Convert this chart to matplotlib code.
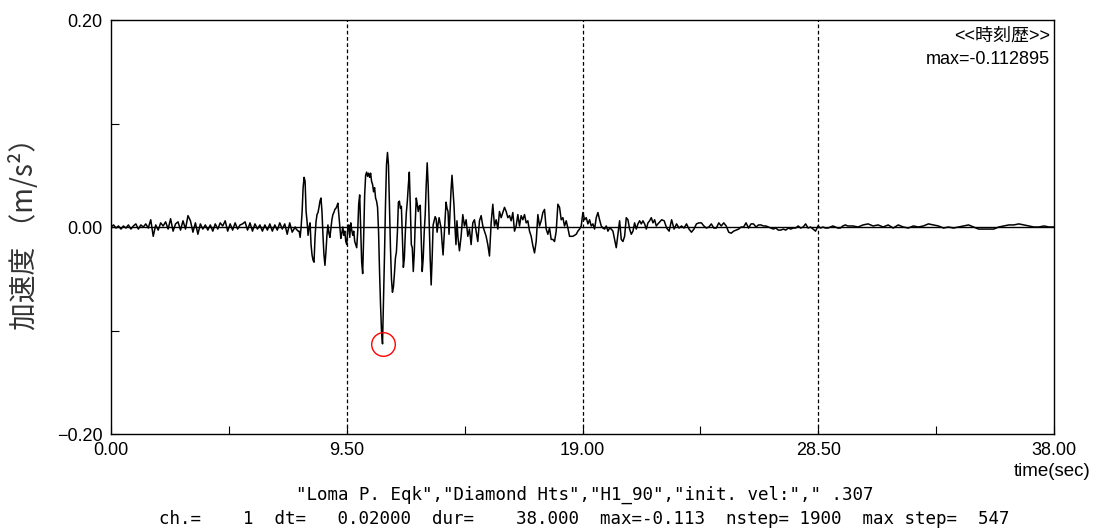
import numpy as np
import matplotlib
matplotlib.use("Agg")
import matplotlib.pyplot as plt

plt.rcParams['font.family'] = ['Liberation Sans', 'Noto Sans CJK JP', 'DejaVu Sans']
plt.rcParams['axes.unicode_minus'] = True

# acceleration (m/s2) in pieces
# quiet start, 0.0 - 7.3 s every 0.1 s
acc_pre = [0.000, 0.002, -0.001, 0.001, -0.002, 0.001, -0.001, 0.002, -0.002, 0.001,
           0.003, -0.002, 0.002, 0.000, 0.003, -0.001, 0.007, -0.009, 0.002, -0.003,
           0.004, 0.001, 0.005, -0.002, 0.008, -0.004, 0.003, 0.005, -0.003, 0.006,
           -0.002, 0.011, 0.006, -0.005, 0.004, -0.007, 0.003, -0.002, 0.002, -0.003,
           0.002, -0.004, 0.003, -0.002, 0.004, 0.001, 0.006, -0.004, 0.003, -0.003,
           0.004, -0.002, 0.002, 0.003, 0.005, -0.003, 0.004, -0.004, 0.003, -0.002,
           0.002, -0.004, 0.002, -0.003, 0.003, -0.004, 0.002, -0.003, 0.004, -0.002,
           0.003, -0.007, 0.004, -0.005]
t_pre = (0.0, 7.3)

# strong motion, 7.42 - 13.98 s every 0.04 s
acc_main = [0.000, -0.002, -0.003, -0.004, -0.004, -0.010, 0.000, 0.015, 0.038, 0.048,
            0.044, 0.015, 0.005, -0.008, 0.000, 0.004, -0.017, -0.027, -0.032, -0.034,
            -0.010, 0.005, 0.012, 0.014, 0.019, 0.025, 0.028, 0.015, -0.008, -0.027,
            -0.037, -0.024, -0.008, 0.002, -0.006, -0.010, -0.001, 0.007, 0.012, 0.014,
            0.017, 0.018, 0.020, 0.023, 0.012, 0.002, -0.011, -0.006, 0.000, -0.008,
            -0.004, -0.014, -0.017, -0.001, 0.002, -0.010, 0.004, -0.003, -0.008, -0.004,
            -0.014, -0.017, -0.020, -0.004, 0.022, 0.031, -0.001, -0.034, -0.045, -0.010,
            0.031, 0.050, 0.053, 0.049, 0.052, 0.048, 0.052, 0.044, 0.041, 0.034,
            0.038, 0.028, 0.025, 0.019, -0.004, -0.043, -0.075, -0.101, -0.112895, -0.072,
            -0.027, 0.022, 0.060, 0.072, 0.060, 0.020, -0.020, -0.050, -0.063, -0.058,
            -0.045, -0.030, -0.024, -0.005, 0.024, 0.025, 0.018, 0.020, -0.010, -0.039,
            -0.030, -0.005, 0.014, 0.025, 0.040, 0.053, 0.020, -0.017, -0.020, -0.043,
            -0.025, 0.005, 0.028, 0.022, 0.015, 0.020, 0.021, -0.010, -0.043, -0.030,
            -0.005, 0.012, 0.040, 0.062, 0.040, 0.005, -0.030, -0.056, -0.030, 0.002,
            0.006, 0.010, 0.008, -0.005, 0.003, 0.009, 0.004, -0.001, -0.015, -0.027,
            -0.010, 0.008, 0.024, 0.018, 0.015, -0.007, 0.015, 0.035, 0.050, 0.035,
            0.021, 0.000, -0.017, 0.006, -0.010]
t_main = (7.42, 13.98)

# coda, 14.04 - 22.04 s
acc_coda = [-0.023, -0.009, 0.012, 0.001, 0.007, -0.009, -0.002, -0.017, 0.004, 0.007,
            -0.004, -0.014, 0.006, 0.011, 0.001, -0.004, -0.009, -0.017, -0.028, 0.004,
            0.022, 0.001, 0.007, -0.002, 0.015, 0.009, 0.014, 0.019, 0.015, 0.009,
            0.011, 0.006, 0.014, -0.004, 0.001, 0.012, 0.001, 0.011, 0.007, 0.012,
            0.004, 0.006, -0.004, -0.009, -0.018, -0.025, -0.014, 0.012, 0.001, 0.006,
            0.014, 0.017, -0.002, -0.007, -0.001, -0.012, -0.012, -0.014, -0.004, 0.022,
            0.019, 0.007, 0.009, 0.001, 0.006, -0.001, -0.009, -0.009, -0.009, -0.008,
            -0.007, -0.004, -0.002, 0.001, 0.014, 0.007, 0.009, 0.003, 0.007, 0.001,
            0.003, -0.002, 0.009, 0.014, 0.007, 0.001, -0.001, -0.002, 0.001, -0.004,
            -0.001, -0.002, -0.004, -0.012, -0.020, -0.007, 0.006, -0.012, -0.014, -0.009,
            0.009, 0.007, -0.002, -0.007, -0.004, 0.004, -0.002, 0.003, 0.006, 0.003,
            0.006, 0.003, -0.002, 0.004, 0.006, 0.009, 0.004, 0.007, 0.001, 0.003]
t_coda = (14.04, 22.04)

# tail, 22.19 - 29.69 s every 0.1 s
acc_tail = [0.007, 0.006, -0.001, -0.004, 0.007, -0.002, 0.003, -0.001, 0.001, -0.001,
            0.003, -0.002, -0.005, -0.002, 0.003, 0.004, 0.004, 0.001, -0.001, 0.000,
            0.003, -0.001, -0.001, 0.004, 0.001, 0.004, 0.001, -0.005, -0.006, -0.004,
            -0.003, -0.002, 0.000, 0.000, 0.004, -0.001, 0.003, 0.003, 0.000, 0.002,
            0.002, 0.001, 0.001, 0.000, -0.001, -0.002, -0.001, -0.003, -0.003, -0.002,
            -0.003, -0.001, -0.002, -0.001, -0.001, 0.001, -0.001, 0.000, 0.003, -0.001,
            0.000, -0.002, -0.004, 0.001, -0.001, 0.000, -0.001, -0.001, 0.000, 0.001,
            0.000, -0.001, -0.001, 0.001, 0.002, 0.001]
t_tail = (22.19, 29.69)

# end, 29.9 - 38.0 s every 0.2 s
acc_end = [0.001, 0.000, 0.002, 0.003, 0.001, 0.002, 0.000, 0.002, -0.001, 0.002,
           0.000, -0.001, 0.001, 0.000, 0.001, 0.003, 0.002, 0.001, -0.001, 0.000,
           -0.001, 0.000, 0.001, 0.002, 0.000, -0.002, -0.002, -0.002, -0.002, 0.000,
           0.001, 0.002, 0.002, 0.003, 0.002, 0.001, 0.000, 0.000, 0.001, 0.000, 0.000]
t_end = (29.9, 38.0)

xticks = [0.0, 9.5, 19.0, 28.5, 38.0]
yticks = [-0.2, 0.0, 0.2]

title1 = '"Loma P. Eqk","Diamond Hts","H1_90","init. vel:"," .307'
title2 = 'ch.=    1  dt=   0.02000  dur=    38.000  max=-0.113  nstep= 1900  max step=  547'


def build():
    tt, aa = [], []
    for vals, (t0, t1) in [(acc_pre, t_pre), (acc_main, t_main), (acc_coda, t_coda),
                           (acc_tail, t_tail), (acc_end, t_end)]:
        tt.append(np.linspace(t0, t1, len(vals)))
        aa.append(np.array(vals))
    return np.concatenate(tt), np.concatenate(aa)


def fmt(v):
    return ('%.2f' % v).replace('-', '\u2212')


def main():
    t, a = build()
    ipk = np.argmax(np.abs(a))

    fig = plt.figure(figsize=(11.06, 5.32), dpi=100)
    ax = fig.add_axes([0.1004, 0.1842, 0.8526, 0.7782])

    ax.axhline(0, color='black', lw=1.0, zorder=1)
    for xv in xticks[1:-1]:
        ax.axvline(xv, color='black', lw=0.9, ls=(0, (3, 2)), zorder=1)
    ax.plot(t, a, color='black', lw=1.1, zorder=2)
    ax.plot(t[ipk], a[ipk], 'o', ms=17, mfc='none', mec='red', mew=1.0, zorder=3)

    ax.set_xlim(0, 38)
    ax.set_ylim(-0.2, 0.2)
    ax.set_xticks(xticks)
    ax.set_xticklabels([fmt(v) for v in xticks])
    ax.set_xticks([4.75, 14.25, 23.75, 33.25], minor=True)
    ax.set_yticks(yticks)
    ax.set_yticklabels([fmt(v) for v in yticks])
    ax.set_yticks([-0.1, 0.1], minor=True)
    ax.tick_params(which='both', direction='in', length=6, width=0.8, labelsize=13)
    ax.tick_params(axis='x', pad=6)
    ax.tick_params(axis='y', pad=6)
    for s in ax.spines.values():
        s.set_linewidth(1.0)

    ax.set_ylabel('加速度 （m/s²）', fontsize=20, color='#333333', labelpad=12,
                  family=['Noto Sans CJK JP', 'DejaVu Sans'])

    ax.text(0.996, 0.982, '<<時刻歴>>', transform=ax.transAxes, ha='right', va='top',
            fontsize=13, family=['Liberation Sans', 'Noto Sans CJK JP'])
    ax.text(0.996, 0.925, 'max=%.6f' % a[ipk], transform=ax.transAxes, ha='right', va='top',
            fontsize=13)
    fig.text(1052 / 1106, 1 - 472 / 532, 'time(sec)', ha='center', va='center', fontsize=13.5)

    fig.text(0.529, 0.0695, title1, ha='center', va='center', fontsize=12.6,
             family='DejaVu Sans Mono')
    fig.text(0.528, 0.0244, title2, ha='center', va='center', fontsize=12.6,
             family='DejaVu Sans Mono')

    fig.savefig('out.png', dpi=100)


if __name__ == "__main__":
    main()
